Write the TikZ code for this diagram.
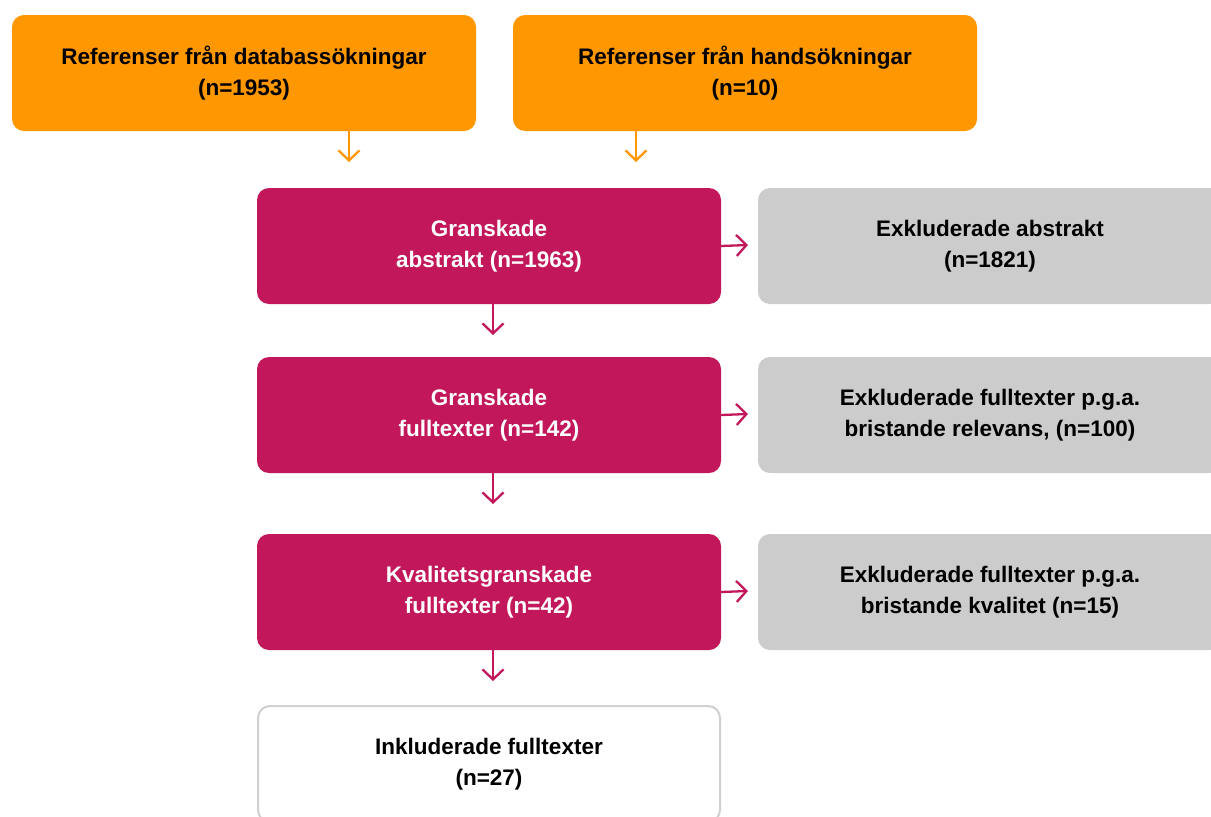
\documentclass[tikz,border=0pt]{standalone}
\usepackage{xcolor}
\usepackage{fontspec}
\setmainfont{Liberation Sans}
\usetikzlibrary{arrows.meta}
\definecolor{sbuOrange}{HTML}{FF9800}
\definecolor{sbuRed}{HTML}{C2185B}
\definecolor{sbuGrey}{HTML}{CCCCCC}
\definecolor{sbuLine}{HTML}{D0D0D0}
\begin{document}
\begin{tikzpicture}[x=1pt, y=-1pt]
          \tikzstyle{every node}=[rectangle, rounded corners=12pt, minimum width=464pt, minimum height=116pt,
            inner sep=0pt, align=center, font=\bfseries\fontsize{22.5}{31}\selectfont]
          \tikzstyle{search}=[fill=sbuOrange, text=black]
          \tikzstyle{screen}=[fill=sbuRed, text=white]
          \tikzstyle{excl}=[fill=sbuGrey, text=black]
          \tikzstyle{incl}=[fill=white, draw=sbuLine, line width=2pt, text=black]
          \tikzstyle{flow}=[line width=2.3pt, -{Straight Barb[length=10pt, width=21pt, line width=2.3pt]}]
          \useasboundingbox (0,0) rectangle (1211,817);
          \clip (0,0) rectangle (1211,817);
          \node[search] (Db) at (244,73) {Referenser från databassökningar\\(n=1953)};
          \node[search] (Hand) at (745,73) {Referenser från handsökningar\\(n=10)};
          \node[screen] (Abs) at (489,246) {Granskade\\abstrakt (n=1963)};
          \node[excl] (AbsOut) at (990,246) {Exkluderade abstrakt\\(n=1821)};
          \node[screen] (Full) at (489,415) {Granskade\\fulltexter (n=142)};
          \node[excl] (FullOut) at (990,415) {Exkluderade fulltexter p.g.a.\\bristande relevans, (n=100)};
          \node[screen] (Qual) at (489,592) {Kvalitetsgranskade\\fulltexter (n=42)};
          \node[excl] (QualOut) at (990,592) {Exkluderade fulltexter p.g.a.\\bristande kvalitet (n=15)};
          \node[incl, minimum width=462pt] (Incl) at (489,764) {Inkluderade fulltexter\\(n=27)};
          % arrow ends
          \coordinate (DbTip) at (349,162);
          \coordinate (HandTip) at (636,162);
          \coordinate (AbsTip) at (493,335);
          \coordinate (FullTip) at (493,504);
          \coordinate (QualTip) at (493,681);
          \coordinate (AbsSide) at (748,245);
          \coordinate (FullSide) at (748,414);
          \coordinate (QualSide) at (748,591);
          \draw[flow, sbuOrange] (DbTip |- Db.south) -- (DbTip);
          \draw[flow, sbuOrange] (HandTip |- Hand.south) -- (HandTip);
          \draw[flow, sbuRed] (AbsTip |- Abs.south) -- (AbsTip);
          \draw[flow, sbuRed] (FullTip |- Full.south) -- (FullTip);
          \draw[flow, sbuRed] (QualTip |- Qual.south) -- (QualTip);
          \draw[flow, sbuRed] (Abs.east) -- (AbsSide);
          \draw[flow, sbuRed] (Full.east) -- (FullSide);
          \draw[flow, sbuRed] (Qual.east) -- (QualSide);
        \end{tikzpicture}
\end{document}
